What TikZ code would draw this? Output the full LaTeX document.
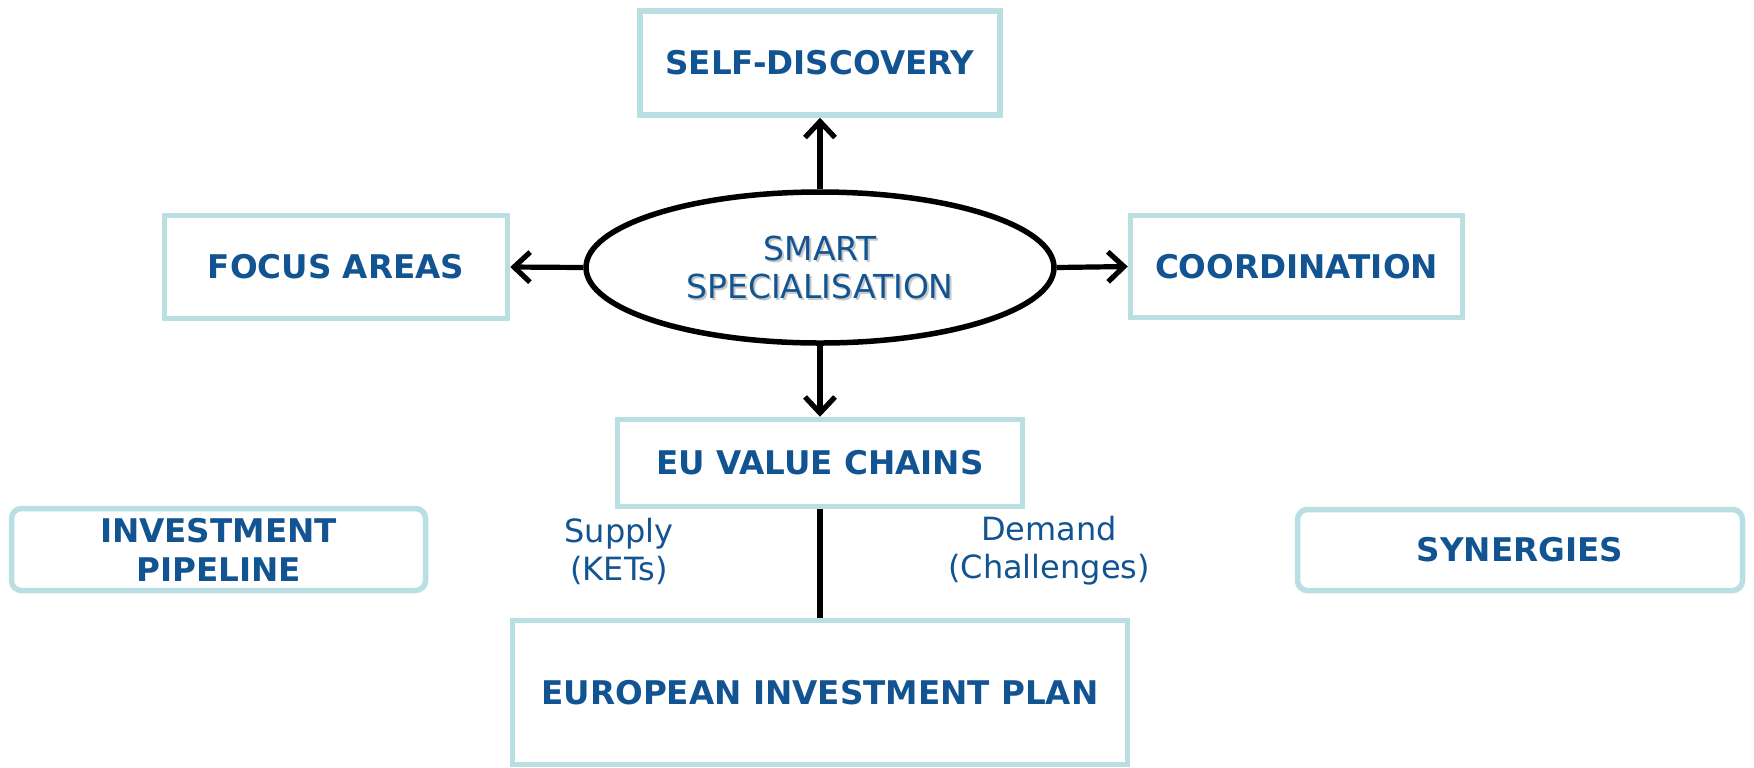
\documentclass[tikz,border=0pt]{standalone}
\usepackage{fontspec}
\setmainfont{DejaVu Sans}
\usetikzlibrary{arrows.meta,shapes.geometric}
\definecolor{txtc}{RGB}{18,84,146}
\definecolor{bordc}{RGB}{186,223,227}
\tikzset{
  box/.style={draw=bordc, line width=2.75pt, text=txtc, inner sep=0pt, align=center,
    font=\bfseries\fontsize{16.3}{19.5}\selectfont},
  rbox/.style={box, rounded corners=5pt},
  arr/.style={line width=2.6pt, -{Straight Barb[length=8pt,width=15pt]}},
  conn/.style={line width=2.6pt},
  lbl/.style={text=txtc, align=center, inner sep=0pt, font=\fontsize{16}{19}\selectfont},
  elltxt/.style={align=center, inner sep=0pt, font=\fontsize{16.5}{19}\selectfont}
}
\begin{document}
\begin{tikzpicture}[x=0.5pt,y=-0.5pt]
\useasboundingbox[fill=white] (0,0) rectangle (1754,767);
% nodes
\node[box, minimum width=180pt, minimum height=52pt] (sd) at (820,63) {SELF-DISCOVERY};
\node[box, minimum width=171.5pt, minimum height=51.5pt] (fa) at (336,267) {FOCUS AREAS};
\node[box, minimum width=166pt, minimum height=51pt] (co) at (1296.5,266.5) {COORDINATION};
\node[box, minimum width=202.5pt, minimum height=43.5pt] (eu) at (820,463) {EU VALUE CHAINS};
\node[rbox, minimum width=207pt, minimum height=41pt] (ip) at (218.5,549.5) {INVESTMENT\\PIPELINE};
\node[rbox, minimum width=222.5pt, minimum height=40.5pt] (sy) at (1520,550) {SYNERGIES};
\node[box, minimum width=307.5pt, minimum height=72pt] (eip) at (820,692.5) {EUROPEAN INVESTMENT PLAN};
% ellipse
\node[draw, ellipse, line width=2.75pt, minimum width=234pt, minimum height=75.5pt, inner sep=0pt] (ell) at (820,267.5) {};
\node[elltxt, text=black!22] (ellshadow) at ([xshift=1pt,yshift=-1.2pt]ell.center) {SMART\\SPECIALISATION};
\node[elltxt, text=txtc] (elltext) at (ell.center) {SMART\\SPECIALISATION};
% labels
\node[lbl] (supply) at (619,551) {Supply\\(KETs)};
\node[lbl] (demand) at (1049,551) {Demand\\(Challenges)};
% connectors
\draw[arr] (ell.north) -- (sd.south);
\draw[arr] (ell.west) -- (fa.east);
\draw[arr] (ell.east) -- (co.west);
\draw[arr] (ell.south) -- (eu.north);
\draw[conn] (eu.south) -- (eip.north);
\end{tikzpicture}
\end{document}
